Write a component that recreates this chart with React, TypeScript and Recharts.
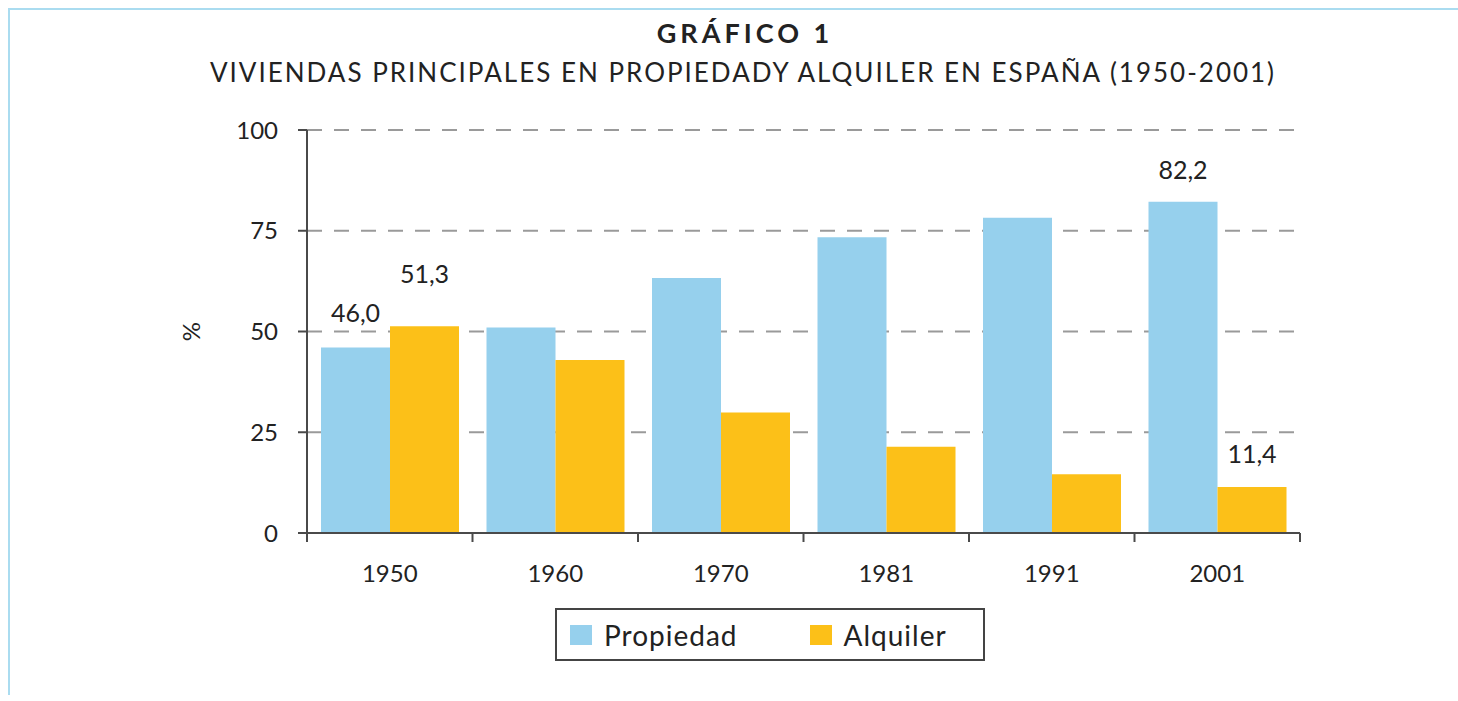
import React from 'react';
import { BarChart, Bar, XAxis, YAxis, CartesianGrid, LabelList } from 'recharts';

// data
const years = ['1950', '1960', '1970', '1981', '1991', '2001'];
const propiedad = [46.0, 51.0, 63.3, 73.4, 78.2, 82.2];
const alquiler = [51.3, 42.9, 29.9, 21.4, 14.6, 11.4];
const yTicks = [0, 25, 50, 75, 100];

const rows = years.map((year, i) => ({ year, propiedad: propiedad[i], alquiler: alquiler[i] }));

const FONT = 'Lato, "Open Sans", sans-serif';
const INK = '#222';
const AXIS = '#4a4a4a';
const BLUE = '#96d0ed';
const YELLOW = '#fcc018';

const series = [
  { key: 'propiedad', name: 'Propiedad', color: BLUE },
  { key: 'alquiler', name: 'Alquiler', color: YELLOW },
];

// which bars carry a value label, and how far above the bar top it sits
const labelLift: Record<string, Record<number, number>> = {
  propiedad: { 0: 36, 5: 33 },
  alquiler: { 0: 53, 5: 34 },
};

const fmt = (v: number) => v.toFixed(1).replace('.', ',');

function makeLabel(key: string) {
  return (props: any) => {
    const { x, y, width, value, index } = props;
    const lift = labelLift[key][index];
    if (lift === undefined) return null;
    return (
      <text
        x={Number(x) + Number(width) / 2}
        y={Number(y) - lift}
        textAnchor="middle"
        dominantBaseline="central"
        fontFamily={FONT}
        fontSize={25}
        fill={INK}
      >
        {fmt(Number(value))}
      </text>
    );
  };
}

function YearTick(props: any) {
  const { x, y, payload, index } = props;
  const half = payload && payload.offset ? payload.offset : 993 / 12;
  return (
    <g>
      <line x1={x - half} x2={x - half} y1={y} y2={y + 9} stroke={AXIS} strokeWidth={2} />
      {index === years.length - 1 && (
        <line x1={x + half} x2={x + half} y1={y} y2={y + 9} stroke={AXIS} strokeWidth={2} />
      )}
      <text x={x} y={y + 39} textAnchor="middle" dominantBaseline="central" fontFamily={FONT} fontSize={24} fill={INK}>
        {payload.value}
      </text>
    </g>
  );
}

function PercentLabel(props: any) {
  const { viewBox } = props;
  const cx = viewBox.x - 17;
  const cy = viewBox.y + viewBox.height / 2;
  return (
    <text
      x={cx}
      y={cy}
      transform={`rotate(-90 ${cx} ${cy})`}
      textAnchor="middle"
      dominantBaseline="central"
      fontFamily={FONT}
      fontSize={24}
      fill={INK}
    >
      %
    </text>
  );
}

export default function App() {
  return (
    <div style={{ position: 'absolute', left: 0, top: 0, width: 1458, height: 701, background: '#fff', fontFamily: FONT }}>
      {/* light blue frame on the left and top */}
      <div
        style={{
          position: 'absolute',
          left: 8,
          top: 8,
          right: 0,
          bottom: 6,
          borderTop: '2px solid #aadcf0',
          borderLeft: '2px solid #aadcf0',
        }}
      />

      <div style={{ position: 'absolute', left: 4, width: 1482, top: 16, textAlign: 'center', fontSize: 27, fontWeight: 700, color: INK, letterSpacing: 4 }}>
        GRÁFICO 1
      </div>
      <div style={{ position: 'absolute', left: 2, width: 1482, top: 56, textAlign: 'center', fontSize: 26, color: INK, letterSpacing: 2 }}>
        VIVIENDAS PRINCIPALES EN PROPIEDADY ALQUILER EN ESPAÑA (1950-2001)
      </div>

      <div style={{ position: 'absolute', left: 0, top: 0 }}>
        <BarChart
          width={1458}
          height={701}
          data={rows}
          margin={{ top: 130, right: 158, bottom: 0, left: 207 }}
          barCategoryGap={14}
          barGap={0}
        >
          <CartesianGrid vertical={false} stroke="#9a9a9a" strokeWidth={2} strokeDasharray="15 12" />
          <XAxis
            dataKey="year"
            tickLine={false}
            tickSize={0}
            tickMargin={0}
            axisLine={{ stroke: AXIS, strokeWidth: 2 }}
            tick={<YearTick />}
            interval={0}
            height={168}
          />
          <YAxis
            type="number"
            domain={[0, 100]}
            ticks={yTicks}
            width={100}
            tickSize={9}
            tickMargin={20}
            axisLine={{ stroke: AXIS, strokeWidth: 2 }}
            tickLine={{ stroke: AXIS, strokeWidth: 2 }}
            tick={{ fontFamily: FONT, fontSize: 24, fill: INK }}
            label={<PercentLabel />}
          />
          {series.map((s) => (
            <Bar key={s.key} dataKey={s.key} name={s.name} fill={s.color} isAnimationActive={false}>
              <LabelList dataKey={s.key} content={makeLabel(s.key)} />
            </Bar>
          ))}
        </BarChart>
      </div>

      {/* legend box */}
      <div
        style={{
          position: 'absolute',
          left: 555,
          top: 608,
          width: 426,
          height: 49,
          border: '2px solid #444',
          display: 'flex',
          alignItems: 'center',
        }}
      >
        {series.map((s, i) => (
          <div key={s.key} style={{ display: 'flex', alignItems: 'center', marginLeft: i === 0 ? 13 : 72 }}>
            <div style={{ width: 22, height: 20, background: s.color, marginRight: 12 }} />
            <span style={{ fontSize: 28, color: INK, letterSpacing: 1 }}>{s.name}</span>
          </div>
        ))}
      </div>
    </div>
  );
}
